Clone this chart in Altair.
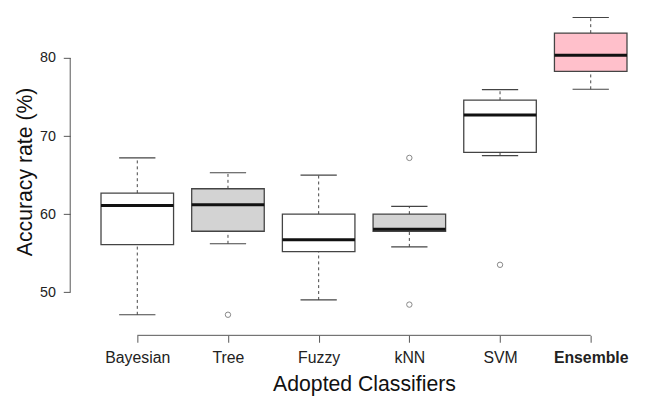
import json
import altair as alt
import pandas as pd

classifiers = ["Bayesian", "Tree", "Fuzzy", "kNN", "SVM", "Ensemble"]
lower_whisker = [47.1, 56.2, 49.0, 55.8, 67.5, 76.0]
q1 = [56.1, 57.8, 55.2, 57.8, 67.9, 78.3]
median = [61.1, 61.2, 56.7, 58.05, 72.7, 80.35]
q3 = [62.7, 63.25, 60.0, 60.0, 74.6, 83.2]
upper_whisker = [67.2, 65.3, 65.0, 61.0, 75.95, 85.2]
box_fill = ["#ffffff", "#d3d3d3", "#ffffff", "#d3d3d3", "#ffffff", "#ffc0cb"]

outlier_class = ["Tree", "kNN", "kNN", "SVM"]
outlier_value = [47.1, 67.2, 48.4, 53.5]

y_ticks = [50, 60, 70, 80]

W, H = 551, 320
FONT = "Liberation Sans"

boxes = pd.DataFrame({
    "classifier": classifiers,
    "pos": list(range(1, len(classifiers) + 1)),
    "lo": lower_whisker, "q1": q1, "med": median, "q3": q3, "hi": upper_whisker,
    "fill": box_fill,
})
pos_of = {c: i + 1 for i, c in enumerate(classifiers)}
outliers = pd.DataFrame({"classifier": outlier_class, "value": outlier_value,
                         "pos": [pos_of[c] for c in outlier_class]})
yaxis_df = pd.DataFrame({"a": [min(y_ticks)], "b": [max(y_ticks)]})
xaxis_df = pd.DataFrame({"a": [1], "b": [len(classifiers)]})

xscale = alt.Scale(domain=[0.5, 6.5], nice=False, zero=False)
yscale = alt.Scale(domain=[45.6, 86.1], nice=False, zero=False)

x_axis = alt.Axis(
    values=list(range(1, len(classifiers) + 1)),
    labelExpr=json.dumps(classifiers) + "[datum.value - 1]",
    title="Adopted Classifiers", offset=9, domain=False, grid=False,
    tickSize=7, tickColor="#555555", tickWidth=1,
    labelPadding=8, labelFontSize=16, labelFont=FONT, labelColor="#222222",
    labelFontWeight={"condition": {"test": "datum.value == 6", "value": "bold"}, "value": "normal"},
    labelFlush=False,
    titleFont=FONT, titleFontSize=21.5, titleFontWeight="normal", titleColor="#111111",
    titleY=56, titleBaseline="alphabetic",
)
y_axis = alt.Axis(
    values=y_ticks, title="Accuracy rate (%)", offset=22, domain=False, grid=False,
    tickSize=7, tickColor="#555555", tickWidth=1,
    labelPadding=8, labelFontSize=14.5, labelFont=FONT, labelColor="#222222",
    titleFont=FONT, titleFontSize=21.5, titleFontWeight="normal", titleColor="#111111",
    titleX=-39, titleY=163, titleBaseline="alphabetic",
)

X = lambda f: alt.X(f, type="quantitative", scale=xscale, axis=x_axis)
Y = lambda f: alt.Y(f, type="quantitative", scale=yscale, axis=y_axis)

base = alt.Chart(boxes).transform_calculate(
    left="datum.pos - 0.4", right="datum.pos + 0.4",
    sl="datum.pos - 0.2", sr="datum.pos + 0.2",
)

LINE = "#444444"
whisk_hi = base.mark_rule(color=LINE, strokeWidth=1, strokeDash=[3, 3]).encode(
    x=X("pos"), y=Y("q3"), y2="hi")
whisk_lo = base.mark_rule(color=LINE, strokeWidth=1, strokeDash=[3, 3]).encode(
    x=X("pos"), y=Y("lo"), y2="q1")
staple_hi = base.mark_rule(color=LINE, strokeWidth=1.2).encode(
    x=X("sl"), x2="sr", y=Y("hi"))
staple_lo = base.mark_rule(color=LINE, strokeWidth=1.2).encode(
    x=X("sl"), x2="sr", y=Y("lo"))
box = base.mark_rect(stroke=LINE, strokeWidth=1.3).encode(
    x=X("left"), x2="right", y=Y("q1"), y2="q3",
    fill=alt.Fill("fill:N", scale=None))
med = base.mark_rule(color="#111111", strokeWidth=3).encode(
    x=X("left"), x2="right", y=Y("med"))
outl = alt.Chart(outliers).mark_point(shape="circle", filled=False, color="#555555",
                                      size=30, strokeWidth=1).encode(
    x=X("pos"), y=Y("value"))
yline = alt.Chart(yaxis_df).mark_rule(color="#555555", strokeWidth=1).encode(
    x=alt.value(-22), y=Y("a"), y2="b")
xline = alt.Chart(xaxis_df).mark_rule(color="#555555", strokeWidth=1).encode(
    x=X("a"), x2="b", y=alt.value(H + 9))

chart = alt.layer(whisk_hi, whisk_lo, staple_hi, staple_lo, box, med, outl, yline, xline).properties(
    width=W, height=H,
    background="white",
    autosize=alt.AutoSizeParams(type="none"),
    padding={"left": 85, "top": 0, "right": 5, "bottom": 72},
).configure_view(stroke=None, strokeWidth=0)

chart.save("out.html", embed_options={"renderer": "svg", "actions": False})
